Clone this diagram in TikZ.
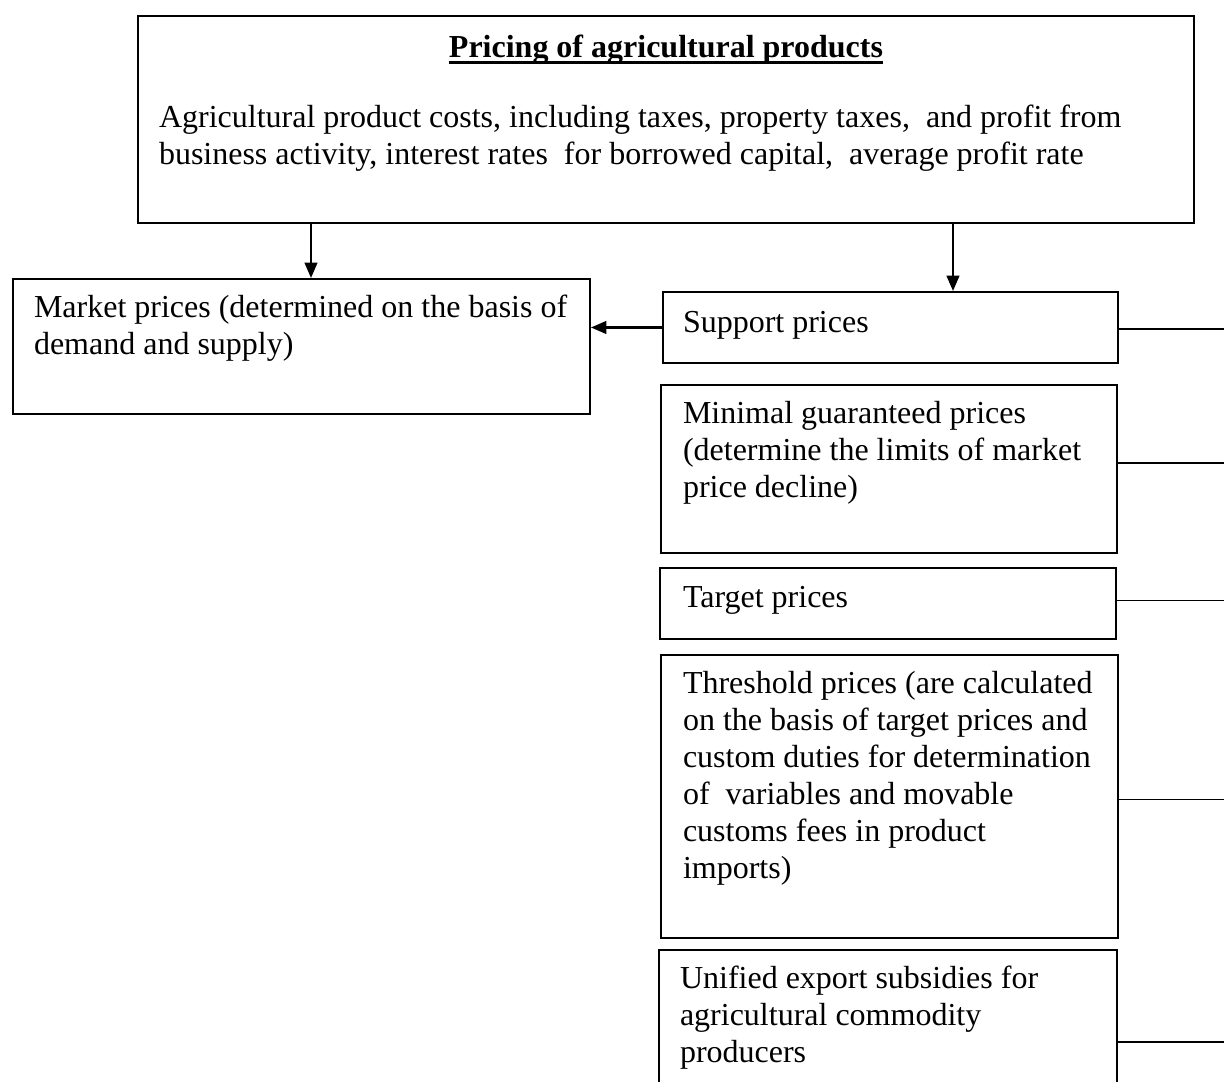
\documentclass[tikz,border=0pt]{standalone}
\usepackage{fontspec}
\setmainfont{Liberation Serif}
\usepackage{tikz}
\usetikzlibrary{calc,arrows.meta}

\newcommand{\undl}[1]{\setbox0\hbox{#1}\rlap{\vrule height -1.3pt depth 2.1pt width \wd0}\box0}

\begin{document}
\begin{tikzpicture}[x=0.375pt,y=-0.375pt,
        font=\fontsize{12pt}{13.875pt}\selectfont,
        pbox/.style n args={4}{draw, line width=0.75pt, anchor=north west, align=flush left,
            inner ysep=0pt, inner xsep=#1, text width=#2, text height=#3, text depth=#4},
        arr/.style={line width=0.8pt, -{Triangle[length=5.8pt,width=4.8pt]}},
        rline/.style={line width=0.6pt}]
        %
        \useasboundingbox (0,0) rectangle (1224,1082);
        \clip (0,0) rectangle (1224,1082);

        \coordinate (a1) at (311,0);
        \coordinate (a2) at (953,0);
        \coordinate (rim) at (1224,0);

        %
        \node[pbox={7.875pt}{380.25pt}{15.75pt}{61.875pt}] (top) at (137,15)
            {{\centering\textbf{\undl{Pricing of agricultural products}}\par}\vspace{12.375pt}
             Agricultural product costs, including taxes, property taxes,\ \ and profit from\\
             business activity, interest rates\ \ for borrowed capital,\ \ average profit rate};

        \node[pbox={7.875pt}{200.625pt}{14.625pt}{36pt}] (market) at (12,278)
            {Market prices (determined on the basis of\\ demand and supply)};

        %
        \node[pbox={7.5pt}{155.625pt}{15.375pt}{11.25pt}] (sup) at (662,291) {Support prices};
        \node[pbox={8.25pt}{154.5pt}{14.625pt}{48.375pt}] (mgp) at (660,384)
            {Minimal guaranteed prices\\ (determine the limits of market\\ price decline)};
        \node[pbox={8.625pt}{153.75pt}{15pt}{11.625pt}] (tgt) at (659,567) {Target prices};
        \node[pbox={8.25pt}{154.875pt}{14.625pt}{91.5pt}] (thr) at (660,654)
            {Threshold prices (are calculated\\ on the basis of target prices and\\
             custom duties for determination\\ of\ \ variables and movable\\
             customs fees in product\\ imports)};
        \node[pbox={7.875pt}{156pt}{14.625pt}{54.375pt}] (uni) at (658,949)
            {Unified export subsidies for\\ agricultural commodity\\ producers};

        %
        \draw[arr] (top.south -| a1) -- (market.north -| a1);
        \draw[arr] (top.south -| a2) -- (sup.north -| a2);
        \draw[arr] (sup.west) -- (sup.west -| market.east);

        \foreach \n/\d in {sup/1.5,mgp/-6,tgt/-3,thr/3,uni/0}
            \draw[rline] ($(\n.east)+(0,\d)$) -- ($(\n.east -| rim)+(0,\d)$);
    \end{tikzpicture}
\end{document}
